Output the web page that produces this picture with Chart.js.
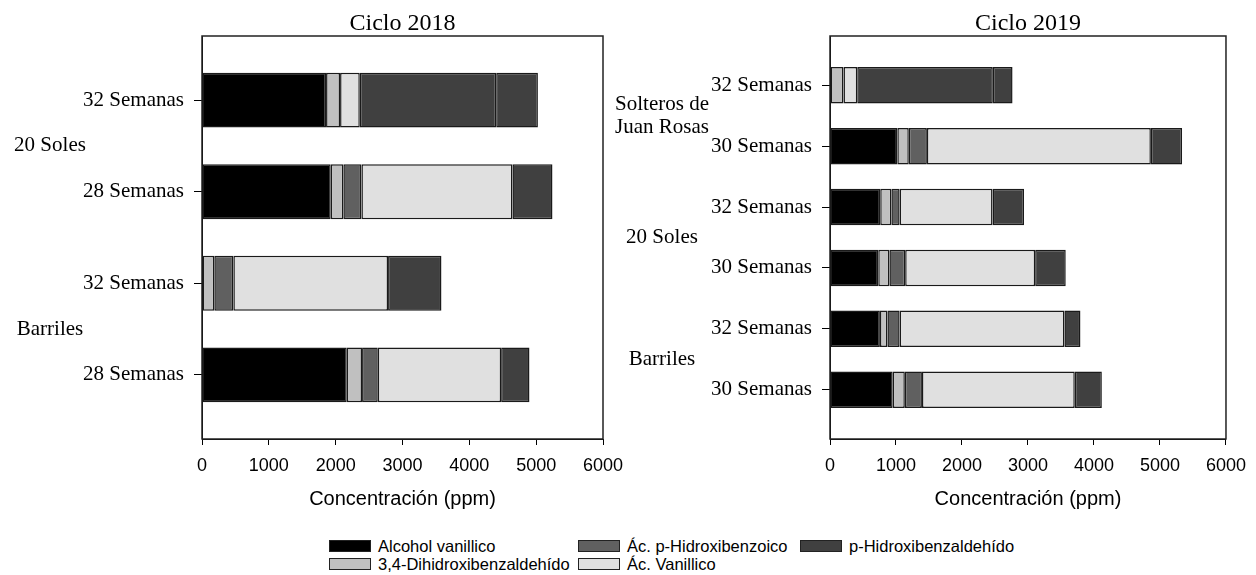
<!DOCTYPE html>
<html>
<head>
<meta charset="utf-8">
<script src="https://cdn.jsdelivr.net/npm/chart.js@4"></script>
<style>
  body { margin: 0; width: 1256px; height: 575px; background: #fff; position: relative; overflow: hidden; }
  #c18 { position: absolute; left: 0; top: 0; }
  #c19 { position: absolute; left: 600px; top: 0; }
  #legend { position: absolute; left: 329px; top: 537px; display: grid; grid-template-rows: 18px 18px;
            grid-auto-flow: column; grid-template-columns: 249px 222px 240px;
            font: 16.5px "Liberation Sans", Arial, sans-serif; color: #000; }
  .item { display: flex; align-items: center; height: 18px; white-space: nowrap; }
  .box { width: 40px; height: 10px; border: 1px solid #222; margin-right: 7px; }
</style>
</head>
<body>
<canvas id="c18" width="640" height="520"></canvas>
<canvas id="c19" width="656" height="520"></canvas>
<div id="legend"></div>
<script>
// compuestos (orden del apilado) y colores
const names = ['Alcohol vanillico', '3,4-Dihidroxibenzaldehído', 'Ác. p-Hidroxibenzoico', 'Ác. Vanillico', 'p-Hidroxibenzaldehído'];
const colors = ['#000000', '#c0c0c0', '#606060', '#e0e0e0', '#404040'];

// Ciclo 2018 (de arriba hacia abajo)
const labels18 = ['32 Semanas', '28 Semanas', '32 Semanas', '28 Semanas'];
const groups18 = ['20 Soles', 'Barriles'];
const alcohol18 = [1856, 1926, null, 2166];
const dhb18 = [210, 189, 184, 229];
const phbzoico18 = [null, 270, 285, 235];
const vanillico18 = [295, 2260, 2315, 1846];
const extra18 = [2041, null, null, null];   // segmento oscuro sin leyenda
const phba18 = [624, 599, 799, 424];

// Ciclo 2019
const labels19 = ['32 Semanas', '30 Semanas', '32 Semanas', '30 Semanas', '32 Semanas', '30 Semanas'];
const groups19 = [['Solteros de', 'Juan Rosas'], '20 Soles', 'Barriles'];
const alcohol19 = [null, 1020, 761, 731, 756, 950];
const dhb19 = [204, 174, 169, 169, 114, 184];
const phbzoico19 = [null, 274, 125, 239, 185, 259];
const vanillico19 = [209, 3394, 1408, 1970, 2497, 2316];
const extra19 = [2054, null, null, null, null, null];
const phba19 = [299, 473, 477, 463, 243, 410];

const xTicksMax = 6000;

function stack(vals) {
    return vals.map((v, i) => ({ x: v, y: i }));
}

// marco completo alrededor del area de grafico
const framePlugin = {
    id: 'frame',
    afterDraw(chart) {
        let a = chart.chartArea, ctx = chart.ctx;
        ctx.save();
        ctx.strokeStyle = '#222';
        ctx.lineWidth = 1.5;
        ctx.strokeRect(a.left, a.top, a.right - a.left, a.bottom - a.top);
        ctx.restore();
    }
};

// etiquetas de grupo entre cada par de categorias
const groupPlugin = {
    id: 'groups',
    afterDraw(chart, args, opts) {
        let y = chart.scales.y, ctx = chart.ctx;
        ctx.save();
        ctx.font = '21px "Liberation Serif", serif';
        ctx.fillStyle = '#000';
        ctx.textAlign = 'center';
        ctx.textBaseline = 'middle';
        opts.labels.forEach(function(g, k) {
            let lines = [].concat(g);
            let yc = y.getPixelForValue(k * 2 + 0.5);
            lines.forEach(function(t, j) {
                ctx.fillText(t, opts.x, yc + (j - (lines.length - 1) / 2) * 23);
            });
        });
        ctx.restore();
    }
};

function makeChart(id, title, labels, groups, series, cfg) {
    let dsColors = colors.slice(0, 4).concat(['#404040', colors[4]]);
    let dsNames = names.slice(0, 4).concat(['', names[4]]);
    return new Chart(document.getElementById(id), {
        type: 'bar',
        data: {
            datasets: series.map(function(s, k) {
                return {
                    label: dsNames[k],
                    data: stack(s),
                    backgroundColor: dsColors[k],
                    borderColor: '#1a1a1a',
                    borderWidth: 1.5,
                    borderSkipped: false,
                    barPercentage: 0.6,
                    categoryPercentage: 1
                };
            })
        },
        plugins: [framePlugin, groupPlugin],
        options: {
            responsive: false,
            animation: false,
            indexAxis: 'y',
            layout: { padding: { left: 0, right: cfg.padRight, top: 0, bottom: 0 } },
            plugins: {
                legend: { display: false },
                tooltip: { enabled: false },
                title: {
                    display: true, text: title, color: '#000', fullSize: false,
                    font: { family: '"Liberation Serif", serif', size: 24, weight: 'normal', lineHeight: 1 },
                    padding: { top: 12, bottom: 0 }
                },
                groups: { labels: groups, x: cfg.groupX }
            },
            scales: {
                x: {
                    type: 'linear', stacked: true, min: 0, max: xTicksMax,
                    ticks: { stepSize: 1000, color: '#000', padding: 10, callback: v => String(v),
                             font: { family: '"Liberation Sans", sans-serif', size: 18 } },
                    grid: { drawOnChartArea: false, drawTicks: true, tickLength: 6, color: '#000' },
                    border: { color: '#000' },
                    title: { display: true, text: 'Concentración (ppm)', color: '#000',
                             font: { family: '"Liberation Sans", sans-serif', size: 20 },
                             padding: { top: 4, bottom: 9 } },
                    afterFit: s => { s.height = 81; }
                },
                y: {
                    type: 'linear', stacked: true, reverse: true, offset: false,
                    min: -cfg.pad, max: labels.length - 1 + cfg.pad,
                    afterBuildTicks: s => { s.ticks = labels.map((l, i) => ({ value: i })); },
                    ticks: { autoSkip: false, color: '#000', padding: 10, callback: v => labels[v],
                             font: { family: '"Liberation Serif", serif', size: 21 } },
                    grid: { drawOnChartArea: false, offset: false, tickLength: 8, color: '#000' },
                    border: { color: '#000' },
                    afterFit: s => { s.width = cfg.yWidth; }
                }
            }
        }
    });
}

makeChart('c18', 'Ciclo 2018', labels18, groups18,
    [alcohol18, dhb18, phbzoico18, vanillico18, extra18, phba18],
    { padRight: 37, yWidth: 202, pad: 0.7, groupX: 50 });

makeChart('c19', 'Ciclo 2019', labels19, groups19,
    [alcohol19, dhb19, phbzoico19, vanillico19, extra19, phba19],
    { padRight: 24, yWidth: 230, pad: 0.81, groupX: 62 });

// leyenda en columnas (2 filas)
let legendEl = document.getElementById('legend');
names.forEach(function(n, k) {
    legendEl.insertAdjacentHTML('beforeend',
        '<div class="item"><span class="box" style="background:' + colors[k] + '"></span>' + n + '</div>');
});
</script>
</body>
</html>
